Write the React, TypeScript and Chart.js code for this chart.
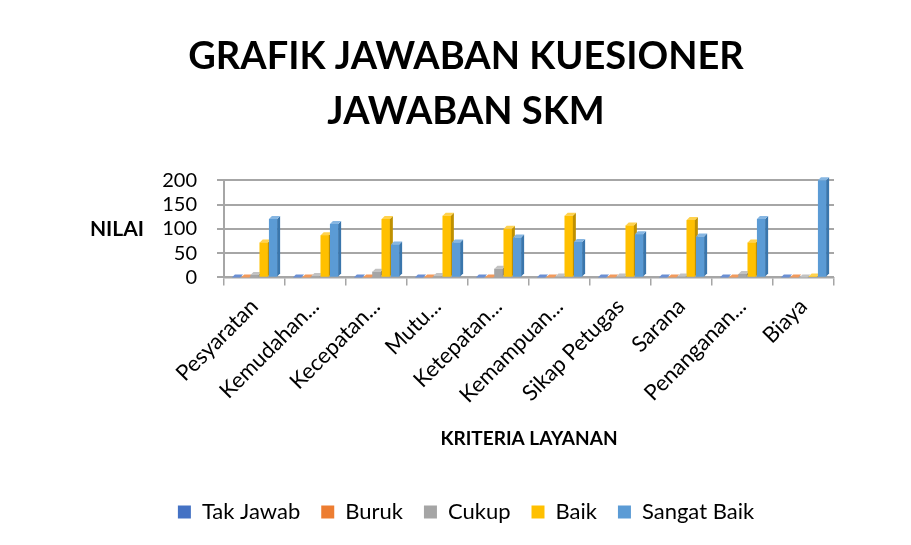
import React, { useEffect, useRef } from "react";
import { Chart, registerables } from "chart.js";

Chart.register(...registerables);

const categories = [
  "Pesyaratan",
  "Kemudahan...",
  "Kecepatan...",
  "Mutu...",
  "Ketepatan...",
  "Kemampuan...",
  "Sikap Petugas",
  "Sarana",
  "Penanganan...",
  "Biaya",
];

const takJawab = [0, 0, 0, 0, 0, 0, 0, 0, 0, 0];
const buruk = [0, 0, 0, 0, 0, 0, 0, 0, 0, 0];
const cukup = [5, 3, 12, 3, 18, 2, 2, 1, 7, 0];
const baik = [72, 87, 120, 127, 100, 127, 107, 118, 72, 1];
const sangatBaik = [120, 110, 68, 72, 82, 73, 89, 84, 120, 200];

const seriesNames = ["Tak Jawab", "Buruk", "Cukup", "Baik", "Sangat Baik"];
const seriesValues = [takJawab, buruk, cukup, baik, sangatBaik];
const yTicks = [0, 50, 100, 150, 200];

const frontColors = ["#4472C4", "#ED7D31", "#A5A5A5", "#FFC000", "#5B9BD5"];
const sideColors = ["#2F5597", "#B85F1F", "#7B7B7B", "#BF9000", "#3A76AC"];
const topColors = ["#6A8FD4", "#F29A5C", "#C2C2C2", "#FFD24D", "#86B6E2"];

const FONT = "Lato";
const DEPTH = 3;

const bar3d = {
  id: "bar3d",
  afterDatasetsDraw(chart: any) {
    const ctx = chart.ctx;
    ctx.save();
    for (let i = 0; i < chart.data.datasets.length; i++) {
      const meta = chart.getDatasetMeta(i);
      meta.data.forEach((el: any) => {
        el.draw(ctx);
      });
      meta.data.forEach((el: any) => {
        const p = el.getProps(["x", "y", "base", "width"], true);
        const left = p.x - p.width / 2;
        const right = p.x + p.width / 2;
        const top = Math.min(p.y, p.base);
        const bottom = Math.max(p.y, p.base);
        ctx.fillStyle = sideColors[i];
        ctx.beginPath();
        ctx.moveTo(right, top);
        ctx.lineTo(right + DEPTH, top - DEPTH);
        ctx.lineTo(right + DEPTH, bottom - DEPTH);
        ctx.lineTo(right, bottom);
        ctx.closePath();
        ctx.fill();
        ctx.fillStyle = topColors[i];
        ctx.beginPath();
        ctx.moveTo(left, top);
        ctx.lineTo(left + DEPTH, top - DEPTH);
        ctx.lineTo(right + DEPTH, top - DEPTH);
        ctx.lineTo(right, top);
        ctx.closePath();
        ctx.fill();
      });
    }
    ctx.restore();
  },
};

const yLabel = {
  id: "yLabel",
  afterDraw(chart: any) {
    const ctx = chart.ctx;
    const area = chart.chartArea;
    ctx.save();
    ctx.font = `bold 21px ${FONT}`;
    ctx.fillStyle = "#000";
    ctx.textAlign = "center";
    ctx.textBaseline = "middle";
    ctx.fillText("NILAI", area.left - 107, (area.top + area.bottom) / 2);
    ctx.restore();
  },
};

export default function App() {
  const ref = useRef<HTMLCanvasElement>(null);

  useEffect(() => {
    document.body.style.margin = "0";
    const chart = new Chart(ref.current!, {
      type: "bar",
      data: {
        labels: categories,
        datasets: seriesNames.map((name, i) => ({
          label: name,
          data: seriesValues[i],
          backgroundColor: frontColors[i],
          borderWidth: 0,
          categoryPercentage: 0.76,
          barPercentage: 0.88,
        })),
      },
      options: {
        animation: false,
        responsive: false,
        layout: { padding: { left: 98, right: 77, top: 0, bottom: 12 } },
        plugins: {
          title: {
            display: true,
            text: ["GRAFIK JAWABAN KUESIONER", "JAWABAN SKM"],
            color: "#000",
            font: { family: FONT, size: 38, weight: "bold", lineHeight: 1.45 },
            padding: { top: 29, bottom: 41 },
          },
          legend: {
            position: "bottom",
            labels: {
              color: "#000",
              font: { family: FONT, size: 22 },
              boxWidth: 13,
              boxHeight: 13,
              padding: 21,
            },
          },
          tooltip: { enabled: false },
        },
        scales: {
          x: {
            grid: {
              drawOnChartArea: false,
              drawTicks: true,
              tickLength: 8,
              color: "#a6a6a6",
              lineWidth: 1.5,
            },
            border: { color: "#a6a6a6", width: 1.5 },
            ticks: {
              color: "#000",
              font: { family: FONT, size: 22 },
              maxRotation: 45,
              minRotation: 45,
              autoSkip: false,
              padding: 8,
            },
            title: {
              display: true,
              text: "KRITERIA LAYANAN",
              color: "#000",
              font: { family: FONT, size: 19, weight: "bold" },
              padding: { top: 11, bottom: 30 },
            },
          },
          y: {
            min: 0,
            max: 200,
            afterBuildTicks: (scale: any) => {
              scale.ticks = yTicks.map((v) => ({ value: v }));
            },
            afterFit: (scale: any) => {
              scale.width = 126;
            },
            grid: {
              color: "#a6a6a6",
              lineWidth: 2,
              tickLength: 7,
            },
            border: { color: "#a6a6a6", width: 2 },
            ticks: {
              color: "#000",
              font: { family: FONT, size: 20 },
              padding: 20,
              autoSkip: false,
            },
          },
        },
      },
      plugins: [bar3d, yLabel],
    });
    return () => chart.destroy();
  }, []);

  return (
    <div style={{ position: "absolute", left: 0, top: 0, width: 911, height: 545, background: "#fff" }}>
      <canvas ref={ref} width={911} height={545} />
    </div>
  );
}
